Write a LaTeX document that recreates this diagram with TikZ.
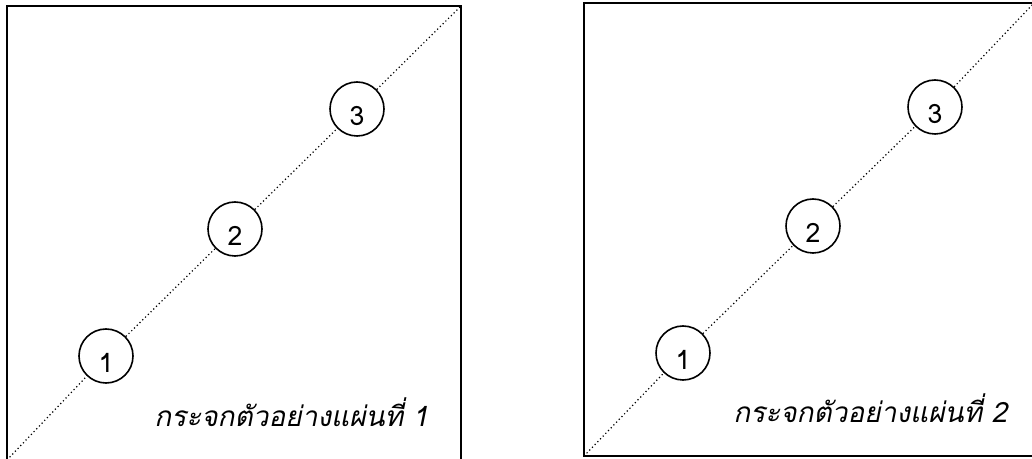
\documentclass[tikz,border=0pt]{standalone}
\usepackage{fontspec}
\usepackage{tikz}
\newfontfamily\thaifont[Script=Thai]{Loma}
\newfontfamily\thaislant[Script=Thai,FakeSlant=0.2]{Loma}

\begin{document}
\begin{tikzpicture}[x=0.75pt, y=-0.75pt,
  glass/.style={line width=1.4pt},
  diag/.style={dotted, line width=0.9pt},
  spot/.style={circle, draw, line width=1.2pt, fill=white, minimum size=40.5pt,
    inner sep=0pt, font=\thaifont\fontsize{20}{20}\selectfont,
    text height=25pt, text depth=0pt},
  sheetlab/.style={anchor=base east, font=\thaislant\fontsize{21}{21}\selectfont}]
\useasboundingbox (0,0) rectangle (1032,459);
% ---- glass 1 ----
\coordinate (bl1) at (7,460);
\coordinate (tr1) at (461,6);
\draw[glass] (bl1) rectangle (tr1);
\node[spot] (s11) at (106,356) {1};
\node[spot] (s12) at (235,229) {2};
\node[spot] (s13) at (357,109) {3};
\draw[diag] (bl1) -- (s11) -- (s12) -- (s13) -- (tr1);
\node[sheetlab] (lab1) at (433,427) {กระจกตัวอย่างแผ่นที่ 1};
% ---- glass 2 ----
\coordinate (bl2) at (584,456);
\coordinate (tr2) at (1034,3);
\draw[glass] (bl2) rectangle (tr2);
\node[spot] (s21) at (683,353) {1};
\node[spot] (s22) at (813,226) {2};
\node[spot] (s23) at (935,107) {3};
\draw[diag] (bl2) -- (s21) -- (s22) -- (s23) -- (tr2);
\node[sheetlab] (lab2) at (1012,423) {กระจกตัวอย่างแผ่นที่ 2};
\end{tikzpicture}
\end{document}
